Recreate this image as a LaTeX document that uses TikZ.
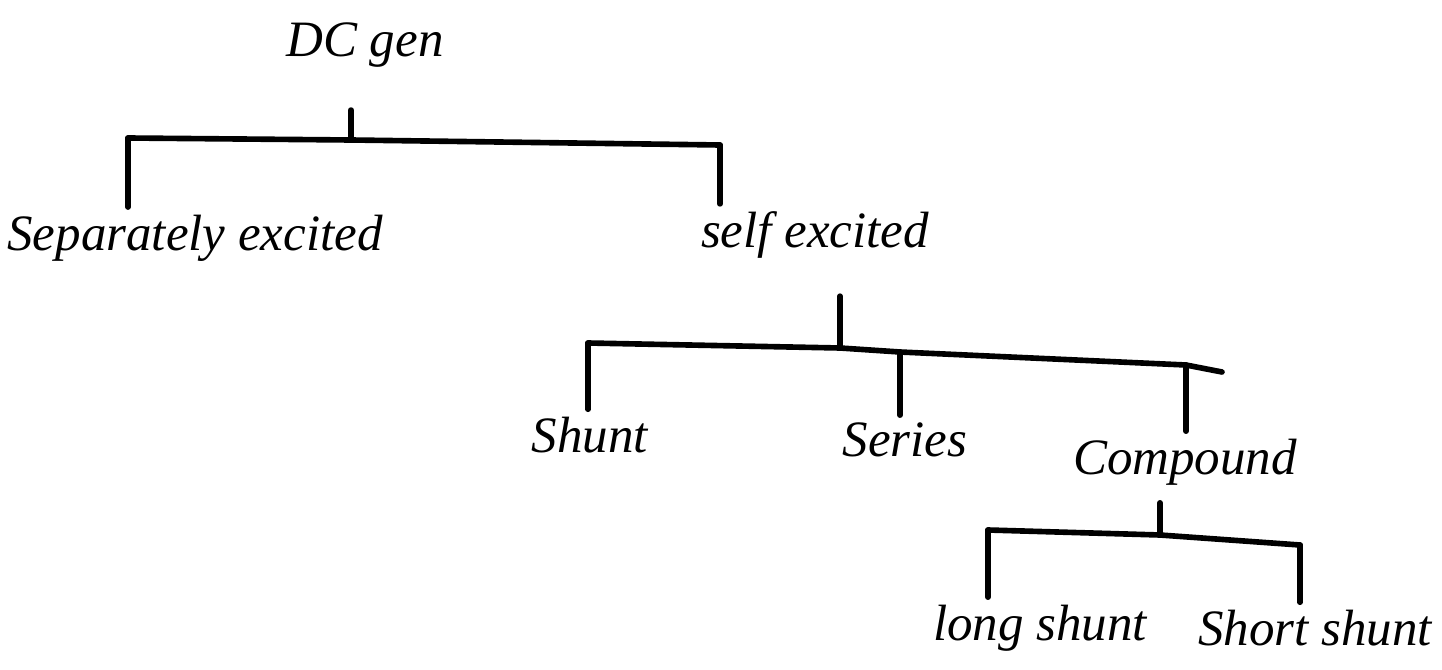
\documentclass[tikz,border=0pt]{standalone}
\usepackage{fontspec}
\setmainfont{Liberation Serif}
\begin{document}
\begin{tikzpicture}[x=0.01cm,y=-0.01cm,
  lbl/.style={inner sep=2pt,font=\fontsize{14.5}{17}\selectfont\itshape},
  wire/.style={line width=1.6pt,line cap=round},
  stem/.style={wire,shorten <=0.6cm}]
\useasboundingbox[fill=white] (0,0) rectangle (1442,670);
% texts
\node[lbl] (dc) at (365,45) {DC gen};
\node[lbl] (sep) at (195,238) {Separately excited};
\node[lbl] (self) at (815,235) {self excited};
\node[lbl] (shunt) at (590,435) {Shunt};
\node[lbl] (series) at (905,440) {Series};
\node[lbl] (comp) at (1185,462) {Compound};
\node[lbl] (long) at (1040,628) {long shunt};
\node[lbl] (short) at (1315,628) {Short shunt};
% junction coordinates
\coordinate (b1) at (351,140);
\coordinate (b1l) at (128,138);
\coordinate (b1r) at (720,145);
\coordinate (b2) at (840,348);
\coordinate (b2l) at (588,343);
\coordinate (b2m) at (900,352);
\coordinate (b2r) at (1186,365);
\coordinate (b2e) at (1222,372);
\coordinate (b3) at (1160,535);
\coordinate (b3l) at (988,530);
\coordinate (b3r) at (1300,545);
% level 1
\draw[stem,shorten <=0.35cm] (dc.south -| b1) -- (b1);
\draw[wire] (b1l) -- (b1) -- (b1r);
\draw[wire] (b1l) -- (sep.north -| b1l);
\draw[wire] (b1r) -- (self.north -| b1r);
% level 2
\draw[stem,shorten <=0.3cm] (self.south -| b2) -- (b2);
\draw[wire] (b2l) -- (b2) -- (b2m) -- (b2r) -- (b2e);
\draw[wire] (b2l) -- (shunt.north -| b2l);
\draw[wire] (b2m) -- (series.north -| b2m);
\draw[wire] (b2r) -- (comp.north -| b2r);
% level 3
\draw[stem,shorten <=0.1cm] (comp.south -| b3) -- (b3);
\draw[wire] (b3l) -- (b3) -- (b3r);
\draw[wire] (b3l) -- (long.north -| b3l);
\draw[wire] (b3r) -- (short.north -| b3r);
\end{tikzpicture}
\end{document}
